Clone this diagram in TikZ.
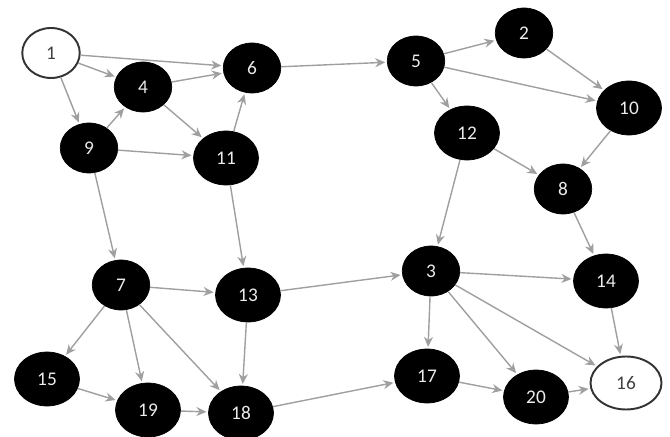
\documentclass[tikz,border=0pt]{standalone}
\usepackage{fontspec}
\setmainfont{Carlito}
\usepackage{tikz}
\usetikzlibrary{arrows.meta,shapes.geometric}

\begin{document}
\begin{tikzpicture}[
    vert/.style={ellipse, fill=black, draw=black, text=white!85!gray, inner sep=1pt,
                 minimum width=1.15cm, minimum height=1.0cm, font=\fontsize{11}{13}\selectfont},
    big/.style={minimum width=1.3cm, minimum height=1.08cm},
    terminal/.style={vert, fill=white, draw=black!80, line width=1.1pt, text=black!75},
    arrow/.style={-{Stealth[length=2mm, width=1.8mm]}, draw=gray!75, line width=0.8pt, shorten >=1pt}
]
\useasboundingbox (0,0) rectangle (13.4,8.72);

% Top rows
\node[terminal] (n1) at (1.02,7.66) {1};
\node[vert] (n2) at (10.48,8.06) {2};
\node[vert] (n4) at (2.86,6.98) {4};
\node[vert] (n6) at (5.04,7.36) {6};
\node[vert] (n5) at (8.32,7.50) {5};
\node[vert, big] (n10) at (12.58,6.56) {10};
\node[vert, big] (n12) at (9.34,6.06) {12};
\node[vert] (n9) at (1.78,5.76) {9};
\node[vert, big] (n11) at (4.52,5.56) {11};
\node[vert] (n8) at (11.26,4.94) {8};

% Middle row
\node[vert] (n7) at (2.42,3.02) {7};
\node[vert, big] (n13) at (4.96,2.82) {13};
\node[vert] (n3) at (8.62,3.30) {3};
\node[vert, big] (n14) at (12.12,3.10) {14};

% Bottom row
\node[vert, big] (n15) at (0.94,1.14) {15};
\node[vert, big] (n19) at (2.96,0.52) {19};
\node[vert, big] (n18) at (4.82,0.46) {18};
\node[vert, big] (n17) at (8.54,1.20) {17};
\node[vert, big] (n20) at (10.72,0.78) {20};
\node[terminal, minimum width=1.42cm, minimum height=1.06cm] (n16) at (12.52,1.06) {16};

% Edges
\draw[arrow] (n1) -- (n4);
\draw[arrow] (n1) -- (n6);
\draw[arrow] (n1) -- (n9);
\draw[arrow] (n4) -- (n6);
\draw[arrow] (n4) -- (n11);
\draw[arrow] (n9) -- (n4);
\draw[arrow] (n9) -- (n11);
\draw[arrow] (n9) -- (n7);
\draw[arrow] (n11) -- (n6);
\draw[arrow] (n11) -- (n13);
\draw[arrow] (n6) -- (n5);
\draw[arrow] (n5) -- (n2);
\draw[arrow] (n5) -- (n10);
\draw[arrow] (n5) -- (n12);
\draw[arrow] (n2) -- (n10);
\draw[arrow] (n10) -- (n8);
\draw[arrow] (n12) -- (n8);
\draw[arrow] (n12) -- (n3);
\draw[arrow] (n8) -- (n14);
\draw[arrow] (n14) -- (n16);
\draw[arrow] (n3) -- (n14);
\draw[arrow] (n3) -- (n17);
\draw[arrow] (n3) -- (n20);
\draw[arrow] (n3) -- (n16);
\draw[arrow] (n13) -- (n3);
\draw[arrow] (n13) -- (n18);
\draw[arrow] (n7) -- (n13);
\draw[arrow] (n7) -- (n15);
\draw[arrow] (n7) -- (n19);
\draw[arrow] (n7) -- (n18);
\draw[arrow] (n15) -- (n19);
\draw[arrow] (n19) -- (n18);
\draw[arrow] (n18) -- (n17);
\draw[arrow] (n17) -- (n20);
\draw[arrow] (n20) -- (n16);

\end{tikzpicture}
\end{document}
